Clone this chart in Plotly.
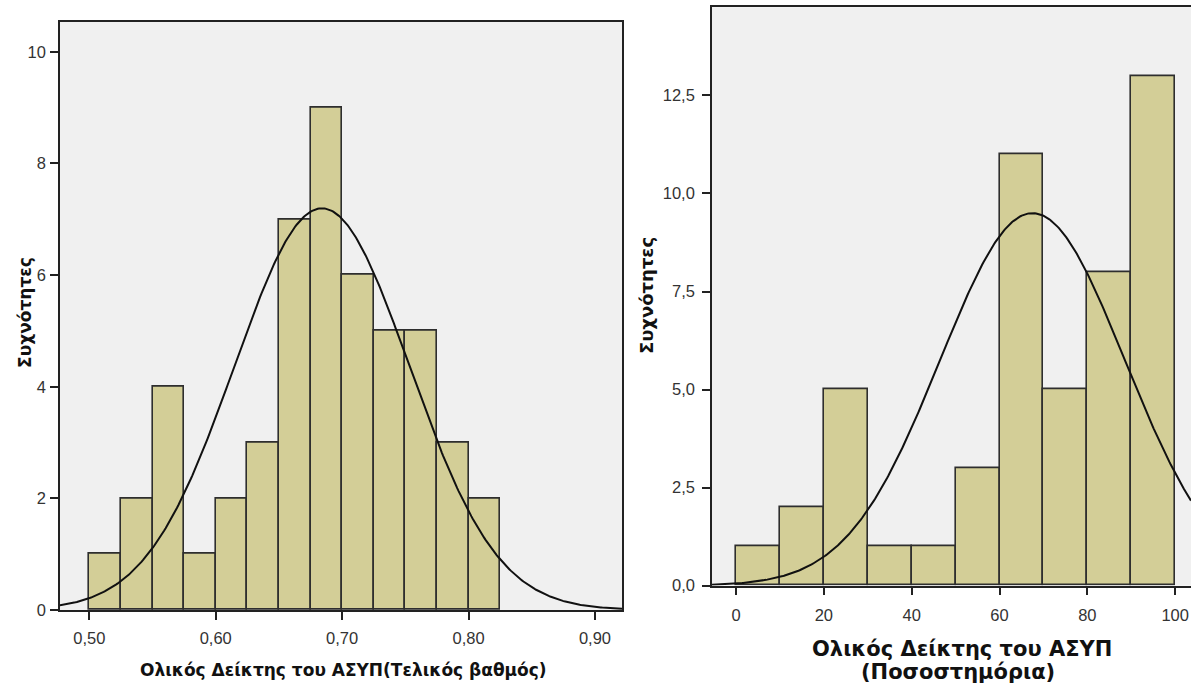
import numpy as np
import plotly.graph_objects as go

# ---------------- data ----------------
# Left histogram: Ολικός Δείκτης του ΑΣΥΠ (Τελικός βαθμός)
left_bin_start = [0.500, 0.525, 0.550, 0.575, 0.600, 0.625, 0.650,
                  0.675, 0.700, 0.725, 0.750, 0.775, 0.800]
left_counts = [1, 2, 4, 1, 2, 3, 7, 9, 6, 5, 5, 3, 2]
left_bin_width = 0.025
left_mean = 0.684
left_sd = 0.0693

# Right histogram: Ολικός Δείκτης του ΑΣΥΠ (Ποσοστημόρια)
right_bin_start = [0, 10, 20, 30, 40, 50, 60, 70, 80, 90]
right_counts = [1, 2, 5, 1, 1, 3, 11, 5, 8, 13]
right_bin_width = 10
right_mean = 67.5
right_sd = 21.0

left_y_title = "Συχνότητες"
right_y_title = "Συχνότητες"
left_x_title = "Ολικός Δείκτης του ΑΣΥΠ(Τελικός βαθμός)"
right_x_title_1 = "Ολικός Δείκτης του ΑΣΥΠ"
right_x_title_2 = "(Ποσοστημόρια)"

# ---------------- layout constants ----------------
W, H = 1191, 694
BAR_FILL = "#D3CE97"
BAR_LINE = "#2E2E2E"
PLOT_BG = "#F0F0F0"
AXIS_COL = "#222222"
TICK_FONT = dict(family="Liberation Sans, Arial, sans-serif", size=16.5, color="#333333")
TITLE_FAMILY = "DejaVu Sans, Verdana, sans-serif"

left_xrange = [0.4768, 0.9214]
left_yrange = [0, 10.54]
right_xrange = [-5.47, 103.6]
right_yrange = [0, 14.75]


def px_x(v):
    return v / W


def px_y(v):
    return (H - v) / H


def normal_curve(mean, sd, n, bw, xr):
    xs = np.linspace(xr[0], xr[1], 400)
    ys = n * bw / (sd * np.sqrt(2 * np.pi)) * np.exp(-0.5 * ((xs - mean) / sd) ** 2)
    return xs, ys


fig = go.Figure()

# left bars
fig.add_trace(go.Bar(
    x=[s + left_bin_width / 2 for s in left_bin_start], y=left_counts,
    width=left_bin_width, marker=dict(color=BAR_FILL, line=dict(color=BAR_LINE, width=1.6)),
    xaxis="x", yaxis="y", showlegend=False, hoverinfo="x+y"))
lx, ly = normal_curve(left_mean, left_sd, sum(left_counts), left_bin_width, left_xrange)
fig.add_trace(go.Scatter(x=lx, y=ly, mode="lines", line=dict(color="#111111", width=2),
                         xaxis="x", yaxis="y", showlegend=False, hoverinfo="skip"))

# right bars
fig.add_trace(go.Bar(
    x=[s + right_bin_width / 2 for s in right_bin_start], y=right_counts,
    width=right_bin_width, marker=dict(color=BAR_FILL, line=dict(color=BAR_LINE, width=1.6)),
    xaxis="x2", yaxis="y2", showlegend=False, hoverinfo="x+y"))
rx, ry = normal_curve(right_mean, right_sd, sum(right_counts), right_bin_width, right_xrange)
fig.add_trace(go.Scatter(x=rx, y=ry, mode="lines", line=dict(color="#111111", width=2),
                         xaxis="x2", yaxis="y2", showlegend=False, hoverinfo="skip"))

axis_common = dict(showline=True, linecolor=AXIS_COL, linewidth=1.6, ticks="outside",
                   ticklen=8, tickwidth=1.8, tickcolor=AXIS_COL, showgrid=False,
                   zeroline=False, tickfont=TICK_FONT)

fig.update_layout(
    width=W, height=H, margin=dict(l=0, r=0, t=0, b=0),
    paper_bgcolor="white", plot_bgcolor=PLOT_BG, separators=",.",
    bargap=0,
    xaxis=dict(domain=[px_x(60), px_x(622)], range=left_xrange, tick0=0.5, dtick=0.1,
               tickformat=".2f", mirror=True, anchor="y", ticklabelstandoff=4, **axis_common),
    yaxis=dict(domain=[px_y(618), px_y(22)], range=left_yrange, tick0=0, dtick=2,
               tickformat="d", mirror=True, anchor="x", ticklabelstandoff=1, **axis_common),
    xaxis2=dict(domain=[px_x(712), 1.0], range=right_xrange, tick0=0, dtick=20,
                tickformat="d", mirror=True, anchor="y2", ticklabelstandoff=6, **axis_common),
    yaxis2=dict(domain=[px_y(593.3), px_y(7.3)], range=right_yrange, tick0=0, dtick=2.5,
                tickformat=".1f", mirror=False, anchor="x2", ticklabelstandoff=4, **axis_common),
)

ann = []
ann.append(dict(text="<b>" + left_x_title + "</b>", x=px_x(343), y=px_y(679),
                xref="paper", yref="paper", xanchor="center", yanchor="middle", showarrow=False,
                font=dict(family=TITLE_FAMILY, size=17, color="#111111")))
ann.append(dict(text="<b>" + left_y_title + "</b>", x=px_x(25), y=px_y(317), textangle=-90,
                xref="paper", yref="paper", xanchor="center", yanchor="middle", showarrow=False,
                font=dict(family=TITLE_FAMILY, size=17, color="#111111")))
ann.append(dict(text="<b>" + right_y_title + "</b>", x=px_x(646), y=px_y(300), textangle=-90,
                xref="paper", yref="paper", xanchor="center", yanchor="middle", showarrow=False,
                font=dict(family=TITLE_FAMILY, size=18, color="#111111")))
ann.append(dict(text="<b>" + right_x_title_1 + "</b>", x=px_x(962), y=px_y(658),
                xref="paper", yref="paper", xanchor="center", yanchor="middle", showarrow=False,
                font=dict(family=TITLE_FAMILY, size=21, color="#111111")))
ann.append(dict(text="<b>" + right_x_title_2 + "</b>", x=px_x(958), y=px_y(681),
                xref="paper", yref="paper", xanchor="center", yanchor="middle", showarrow=False,
                font=dict(family=TITLE_FAMILY, size=21, color="#111111")))
fig.update_layout(annotations=ann)

fig.write_html("out.html")
